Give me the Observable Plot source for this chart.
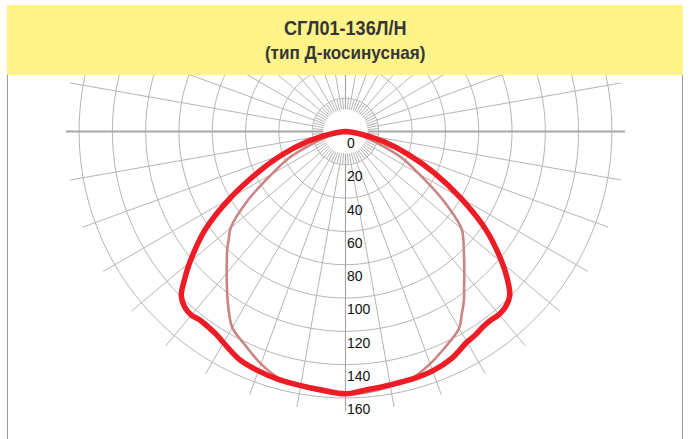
<!DOCTYPE html>
<html><head><meta charset="utf-8">
<script src="https://cdn.jsdelivr.net/npm/d3@7"></script>
<script src="https://cdn.jsdelivr.net/npm/@observablehq/plot@0.6"></script>
<style>
html,body{margin:0;padding:0;background:#fff;}
body{width:690px;height:439px;overflow:hidden;position:relative;}
#hdr{position:absolute;left:7px;top:5px;width:676px;height:70px;background:#fff389;}
.t{position:absolute;left:0;width:100%;text-align:center;color:#363636;font-family:"Liberation Sans",Arial,sans-serif;font-weight:bold;white-space:nowrap;}
.t span{display:inline-block;}
#t1{top:11px;font-size:21px;}
#t1 span{transform:scaleX(0.86);}
#t2{top:37px;font-size:19px;}
#t2 span{transform:scaleX(0.9);}
#chart{position:absolute;left:0;top:75px;}
.bd{position:absolute;top:75px;width:1.5px;height:364px;background:#9a9a9a;}
</style></head>
<body>
<div id="hdr"><div class="t" id="t1"><span></span></div><div class="t" id="t2"><span></span></div></div>
<div id="chart"></div>
<div class="bd" style="left:6.5px"></div>
<div class="bd" style="left:681.5px"></div>
<script>
const title = "СГЛ01-136Л/Н";
const subtitle = "(тип Д-косинусная)";
// angle from nadir, degrees (negative = left half)
const angles = [-90,-85,-80,-75,-70,-65,-60,-55,-50,-47.5,-45,-42.5,-40,-37.5,-35,-32.5,-30,-25,-20,-15,-10,-5,0,5,10,15,20,25,30,32.5,35,37.5,40,42.5,45,47.5,50,55,60,65,70,75,80,85,90];
const redValues = [0,3,10,24,40,58,80,103,122,131,139.5,143,144,143,143.5,144.5,146.5,151,153,154.3,155,156,157.5,155.5,154.5,154,153,150.5,146,145,143.5,143,143.5,142.5,139.5,132,123,103,80,59,40,24,10,3,0];
const pinkValues = [0,2,5,10,20,37,51,71,90,95,100.5,105.5,111,117,123.5,130,136,142,148.5,153.5,155.5,157,158,157,155.5,153.5,148.5,142.5,136.5,130,124,117,111,105.5,100.5,96,91,71,51,37,20,10,5,2,0];
const radiusTicks = [0,20,40,60,80,100,120,140,160];
const gridCircles = [20,40,60,80,100,120,140,160];

document.querySelector("#t1 span").textContent = title;
document.querySelector("#t2 span").textContent = subtitle;

const rad = a => a * Math.PI / 180;
const pt = (r, a) => ({x: r * Math.sin(rad(a)), y: r * Math.cos(rad(a))});

const redPts = angles.map((a, i) => pt(redValues[i], a));
const pinkPts = angles.map((a, i) => pt(pinkValues[i], a));

const circlePts = gridCircles.flatMap(R => d3.range(0, 361, 2).map(a => ({R, ...pt(R, a)})));
const spokes = d3.range(0, 360, 10).map(a => {
  const p1 = pt(13.3, a), p2 = pt(168, a);
  return {a, x1: p1.x, y1: p1.y, x2: p2.x, y2: p2.y};
});
const innerTicks = d3.range(5, 360, 10).map(a => {
  const p1 = pt(13.3, a), p2 = pt(20, a);
  return {a, x1: p1.x, y1: p1.y, x2: p2.x, y2: p2.y};
});
const axisSpokes = spokes.filter(d => d.a % 90 === 0);
const otherSpokes = spokes.filter(d => d.a % 90 !== 0);

const chart = Plot.plot({
  width: 690, height: 364,
  marginTop: 0, marginBottom: 0, marginLeft: 0, marginRight: 0,
  style: {overflow: "hidden", background: "transparent"},
  x: {domain: [-200, 200], range: [12, 678], axis: null},
  y: {domain: [-200, 200], range: [-277, 389], axis: null},
  marks: [
    Plot.line(circlePts, {x: "x", y: "y", z: "R", stroke: "#b5b5b5", strokeWidth: 1}),
    Plot.link(otherSpokes, {x1: "x1", y1: "y1", x2: "x2", y2: "y2", stroke: "#b5b5b5", strokeWidth: 1}),
    Plot.link(innerTicks, {x1: "x1", y1: "y1", x2: "x2", y2: "y2", stroke: "#b5b5b5", strokeWidth: 1}),
    Plot.link(axisSpokes, {x1: "x1", y1: "y1", x2: "x2", y2: "y2", stroke: "#a8a8a8", strokeWidth: d => d.a % 180 === 0 ? 1.2 : 1.8}),
    Plot.line(pinkPts, {x: "x", y: "y", stroke: "#c98484", strokeWidth: 2.6, curve: "catmull-rom", strokeLinejoin: "round"}),
    Plot.line(redPts, {x: "x", y: "y", stroke: "#ee1c25", strokeWidth: 5.5, curve: "catmull-rom", strokeLinejoin: "round"}),
    Plot.text(radiusTicks, {x: d => 0, y: d => d, text: d => String(d), textAnchor: "start", dx: 1.5, dy: 12, fontSize: 14, fontFamily: "Liberation Sans, Arial, sans-serif", fill: "#111"})
  ]
});
document.getElementById("chart").appendChild(chart);
</script>
</body></html>
